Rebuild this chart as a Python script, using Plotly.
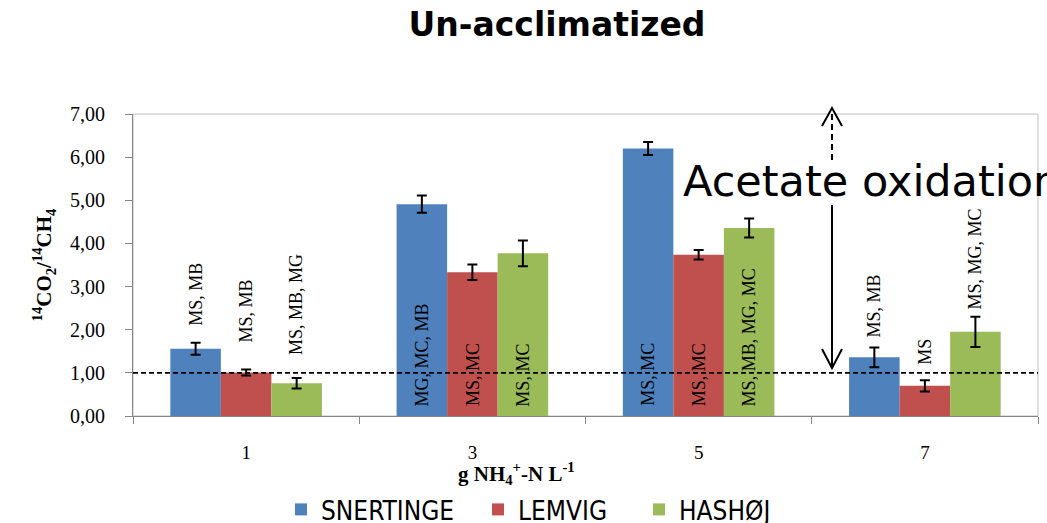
import plotly.graph_objects as go

# ---- data ----
categories = ["1", "3", "5", "7"]
series_names = ["SNERTINGE", "LEMVIG", "HASHØJ"]
snertinge = [1.56, 4.91, 6.20, 1.36]
snertinge_err = [0.14, 0.20, 0.15, 0.23]
lemvig = [1.01, 3.33, 3.74, 0.70]
lemvig_err = [0.07, 0.18, 0.11, 0.13]
hashoj = [0.76, 3.77, 4.36, 1.95]
hashoj_err = [0.12, 0.30, 0.22, 0.35]

snertinge_labels = ["MS, MB", "MG, MC, MB", "MS, MC", "MS, MB"]
lemvig_labels = ["MS, MB", "MS, MC", "MS, MC", "MS"]
hashoj_labels = ["MS, MB, MG", "MS, MC", "MS, MB, MG, MC", "MS, MG, MC"]

# label anchor (bottom of rotated text), y units
snertinge_label_y = [2.05, 0.18, 0.18, 1.77]
lemvig_label_y = [1.65, 0.18, 0.18, 1.14]
hashoj_label_y = [1.37, 0.18, 0.18, 2.42]

colors = ["#4F81BD", "#C0504D", "#9BBB59"]

# ---- layout geometry (px) ----
WIDTH, HEIGHT = 1047, 523
ML, MR, MT, MB = 133, 9, 114, 107
PW = WIDTH - ML - MR
PH = HEIGHT - MT - MB
BARGAP = 0.33
bar_w_px = PW / len(categories) * (1 - BARGAP) / 3

SERIF = "Liberation Serif, Times New Roman, serif"
SANS = "DejaVu Sans, Verdana, sans-serif"
LEGEND_FONT = "DejaVu Sans Condensed, DejaVu Sans, sans-serif"
legend_left_px = [281, 478, 639]


def px2paper(px, py):
    return (px - ML) / PW, (HEIGHT - MB - py) / PH


fig = go.Figure()
values = [snertinge, lemvig, hashoj]
errs = [snertinge_err, lemvig_err, hashoj_err]
legend_ids = ["legend", "legend2", "legend3"]
for name, vals, err, col, lid in zip(series_names, values, errs, colors, legend_ids):
    fig.add_trace(go.Bar(
        x=categories, y=vals, name=name, legend=lid,
        marker=dict(color=col, line=dict(width=0)),
        error_y=dict(type="data", array=err, visible=True, color="black",
                     thickness=2, width=5),
    ))

# bar labels (x as category index)
labels = [snertinge_labels, lemvig_labels, hashoj_labels]
label_ys = [snertinge_label_y, lemvig_label_y, hashoj_label_y]
for k, (labs, ys) in enumerate(zip(labels, label_ys)):
    for i, (lab, yv) in enumerate(zip(labs, ys)):
        fig.add_annotation(
            x=i, y=yv, xref="x", yref="y", text=lab, showarrow=False,
            textangle=-90, xanchor="center", yanchor="bottom",
            xshift=(k - 1) * bar_w_px,
            font=dict(family=SERIF, size=18, color="black"),
        )

shapes = []
# plot frame (light grey)
shapes.append(dict(type="rect", xref="paper", yref="paper", x0=0, x1=1, y0=0, y1=1,
                   line=dict(color="#C0C0C0", width=1), layer="below"))
# dashed reference line at 1
shapes.append(dict(type="line", xref="paper", yref="y", x0=0, x1=1, y0=1, y1=1,
                   line=dict(color="black", width=1.6, dash="5px,3px")))

# solid arrow down
x0, y0 = px2paper(832, 205)
x1, y1 = px2paper(832, 367)
shapes.append(dict(type="line", xref="paper", yref="paper", x0=x0, y0=y0, x1=x1, y1=y1,
                   line=dict(color="black", width=2)))
a = px2paper(822, 349); b = px2paper(832, 368); c = px2paper(842, 349)
shapes.append(dict(type="path", xref="paper", yref="paper",
                   path=f"M{a[0]},{a[1]} L{b[0]},{b[1]} L{c[0]},{c[1]}",
                   line=dict(color="black", width=2)))
# dashed arrow up
x0, y0 = px2paper(832, 160)
x1, y1 = px2paper(832, 110)
shapes.append(dict(type="line", xref="paper", yref="paper", x0=x0, y0=y0, x1=x1, y1=y1,
                   line=dict(color="black", width=2, dash="6px,4px")))
a = px2paper(822, 126); b = px2paper(832, 108); c = px2paper(842, 126)
shapes.append(dict(type="path", xref="paper", yref="paper",
                   path=f"M{a[0]},{a[1]} L{b[0]},{b[1]} L{c[0]},{c[1]}",
                   line=dict(color="black", width=2)))

# "Acetate oxidation"
tx, ty = px2paper(681, 181)
fig.add_annotation(x=tx, y=ty, xref="paper", yref="paper", text="Acetate oxidation",
                   showarrow=False, xanchor="left", yanchor="middle",
                   font=dict(family=SANS, size=43, color="black"))

# x axis title
tx, ty = px2paper(516, 473)
fig.add_annotation(x=tx, y=ty, xref="paper", yref="paper",
                   text="<b>g NH<sub>4</sub><sup>+</sup>-N L<sup>-1</sup></b>",
                   showarrow=False, xanchor="center", yanchor="middle",
                   font=dict(family=SERIF, size=21, color="black"))

legend_common = dict(orientation="h", xanchor="left", yanchor="top",
                     y=(HEIGHT - MB - 486) / PH,
                     font=dict(family=LEGEND_FONT, size=26, color="black"),
                     bgcolor="rgba(0,0,0,0)")

fig.update_layout(
    width=WIDTH, height=HEIGHT,
    margin=dict(l=ML, r=MR, t=MT, b=MB, autoexpand=False),
    paper_bgcolor="white", plot_bgcolor="white",
    barmode="group", bargap=BARGAP, bargroupgap=0,
    separators=",.",
    title=dict(text="<b>Un-acclimatized</b>", x=557 / WIDTH, xanchor="center",
               y=1 - 24 / HEIGHT, yanchor="middle",
               font=dict(family=SANS, size=33, color="black")),
    shapes=shapes,
    showlegend=True,
    legend=dict(x=(legend_left_px[0] - ML) / PW, **legend_common),
    legend2=dict(x=(legend_left_px[1] - ML) / PW, **legend_common),
    legend3=dict(x=(legend_left_px[2] - ML) / PW, **legend_common),
    xaxis=dict(type="category", range=[-0.5, 3.5], autorange=False,
               showline=True, linecolor="#868686", linewidth=1,
               ticks="outside", ticklen=7, tickcolor="#868686", tickson="boundaries",
               showgrid=False, ticklabelstandoff=19,
               tickfont=dict(family=SERIF, size=19, color="black")),
    yaxis=dict(range=[0, 7], tickvals=[0, 1, 2, 3, 4, 5, 6, 7], tickformat=".2f",
               showline=True, linecolor="#868686", linewidth=1,
               ticks="outside", ticklen=7, tickcolor="#868686",
               showgrid=False, zeroline=False, ticklabelstandoff=16,
               tickfont=dict(family=SERIF, size=20, color="black"),
               title=dict(text="<b><sup>14</sup>CO<sub>2</sub>/<sup>14</sup>CH<sub>4</sub></b>",
                          font=dict(family=SERIF, size=21, color="black"), standoff=12)),
)

fig.write_html("out.html", config={"displayModeBar": False},
               post_script="document.body.style.margin='0';")
